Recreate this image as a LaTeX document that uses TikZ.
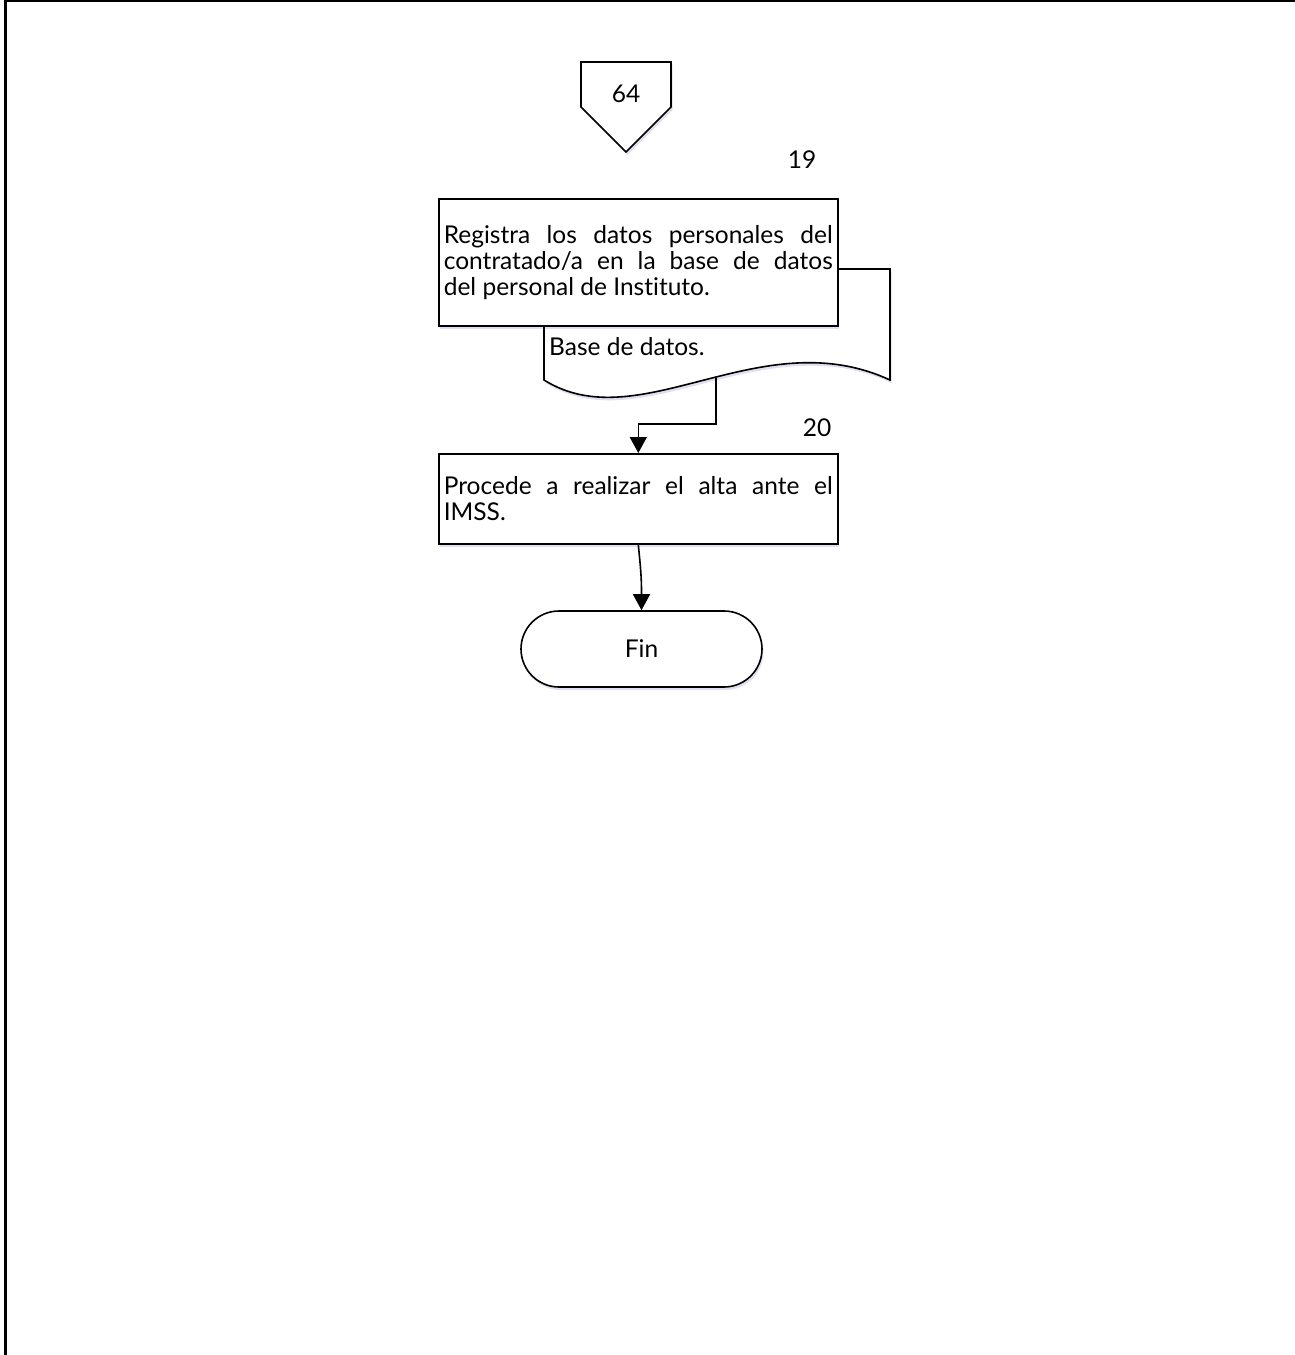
\documentclass[tikz,border=0pt]{standalone}
\usepackage{fontspec}
\setmainfont{Lato}[Ligatures=NoCommon]
\usetikzlibrary{arrows.meta,shadows,calc}
\begin{document}
\begin{tikzpicture}[x=1pt,y=-1pt,
  every node/.style={font=\fontsize{24.5}{26}\selectfont},
  lw/.style={line width=1.6pt},
  shad/.style={drop shadow={shadow xshift=1.5pt,shadow yshift=-3pt,opacity=0.18,fill=blue!40!gray}},
  procbox/.style={lw,draw,fill=white,shad,minimum width=399pt,text width=389pt,inner xsep=5pt,align=justify,anchor=north west},
  arr/.style={lw,-{Triangle[length=16pt,width=17pt]}},
  lbl/.style={inner sep=0pt}]
\useasboundingbox (0,0) rectangle (1295,1355);
% page frame
\draw[line width=2.5pt] (4,1) -- (1295,1);
\draw[line width=3pt] (5,0) -- (5,1355);
% off-page connector
\draw[lw,fill=white,shad] (581,62) -- (671,62) -- (671,107) -- (626,152) -- (581,107) -- cycle;
\node[lbl] (c64) at (626,94) {64};
\node[lbl] (n19) at (802,160) {19};
% document shape
\draw[lw,fill=white,shad] (544,269) -- (890,269) -- (890,380)
   .. controls (760,320) and (640,440) .. (544,380) -- cycle;
\coordinate (docout) at (716,378);
\node[lbl,anchor=west] (doctxt) at (549,347) {Base de datos.};
% box 19
\node[procbox,minimum height=127pt] (box1) at (438,198)
  {Registra los datos personales del\linebreak contratado/a en la base de datos\linebreak del personal de Instituto.};
% box 20
\node[lbl] (n20) at (817,428) {20};
\node[procbox,minimum height=90pt] (box2) at (438,453)
  {Procede a realizar el alta ante el\linebreak IMSS.};
% Fin
\node[lw,draw,fill=white,shad,minimum width=241pt,minimum height=76pt,rounded corners=38pt] (fin) at (641.5,649) {Fin};
% connectors
\draw[arr] (docout) -- (716,424) -| (box2.north);
\draw[arr] (box2.south) .. controls +(3,30) and +(0,-30) .. (fin.north);
\end{tikzpicture}
\end{document}
